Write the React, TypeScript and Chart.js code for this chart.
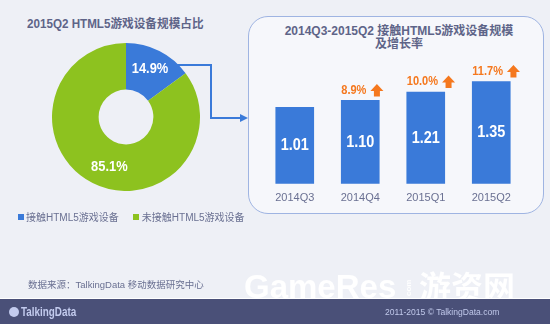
import React, { useEffect, useRef } from "react";
import { Chart, registerables } from "chart.js";

Chart.register(...registerables);

// ---- data ----
const shareLabels = ["接触HTML5游戏设备", "未接触HTML5游戏设备"];
const shareValues = [14.9, 85.1];
const quarters = ["2014Q3", "2014Q4", "2015Q1", "2015Q2"];
const scaleValues = [1.01, 1.1, 1.21, 1.35];
const growthRates: (number | null)[] = [null, 8.9, 10.0, 11.7];

const BLUE = "#3a7ad9";
const GREEN = "#8dc21f";
const ORANGE = "#f5781e";
const TEXT = "#5e6488";
const SANS = '"Liberation Sans", Arial, sans-serif';
const UI = '"Liberation Sans", "Noto Sans CJK SC", sans-serif';

function narrowText(ctx: any, text: string, x: number, y: number, sx: number, align: string) {
  ctx.save();
  ctx.translate(x, y);
  ctx.scale(sx, 1);
  ctx.textAlign = align;
  ctx.textBaseline = "middle";
  ctx.fillText(text, 0, 0);
  const w = ctx.measureText(text).width * sx;
  ctx.restore();
  return w;
}

const donutLabels = {
  id: "donutLabels",
  afterDatasetsDraw(chart: any) {
    const ctx = chart.ctx;
    const meta = chart.getDatasetMeta(0);
    ctx.save();
    ctx.font = "bold 14px " + SANS;
    ctx.fillStyle = "#ffffff";
    meta.data.forEach((arc: any, i: number) => {
      const p = arc.getProps(["x", "y", "startAngle", "endAngle", "outerRadius"], true);
      const mid = (p.startAngle + p.endAngle) / 2 - (i === 1 ? 0.15 : 0);
      const r = p.outerRadius * 0.72;
      narrowText(ctx, shareValues[i].toFixed(1) + "%", p.x + Math.cos(mid) * r, p.y + Math.sin(mid) * r, 0.92, "center");
    });
    ctx.restore();
  },
};

const barLabels = {
  id: "barLabels",
  afterDatasetsDraw(chart: any) {
    const ctx = chart.ctx;
    const meta = chart.getDatasetMeta(0);
    ctx.save();
    meta.data.forEach((bar: any, i: number) => {
      const p = bar.getProps(["x", "y", "base", "width"], true);
      ctx.font = "bold 17px " + SANS;
      ctx.fillStyle = "#ffffff";
      narrowText(ctx, scaleValues[i].toFixed(2), p.x, (p.y + p.base) / 2, 0.85, "center");
      const g = growthRates[i];
      if (g != null) {
        const text = g.toFixed(1) + "%";
        const left = p.x - p.width / 2;
        const ty = p.y - 10;
        ctx.font = "bold 12px " + SANS;
        ctx.fillStyle = ORANGE;
        const tw = narrowText(ctx, text, left, ty, 0.92, "left");
        const ax = left + tw + 4 + 6.5;
        ctx.beginPath();
        ctx.moveTo(ax, ty - 6.5);
        ctx.lineTo(ax + 6.5, ty + 0.5);
        ctx.lineTo(ax + 3, ty + 0.5);
        ctx.lineTo(ax + 3, ty + 6);
        ctx.lineTo(ax - 3, ty + 6);
        ctx.lineTo(ax - 3, ty + 0.5);
        ctx.lineTo(ax - 6.5, ty + 0.5);
        ctx.closePath();
        ctx.fill();
      }
    });
    ctx.restore();
  },
};

function Donut() {
  const ref = useRef<HTMLCanvasElement>(null);
  useEffect(() => {
    const chart = new Chart(ref.current!, {
      type: "doughnut",
      data: {
        labels: shareLabels,
        datasets: [{ data: shareValues, backgroundColor: [BLUE, GREEN], borderWidth: 0 }],
      },
      options: {
        animation: false,
        responsive: false,
        cutout: "37%",
        layout: { padding: 0 },
        plugins: { legend: { display: false }, tooltip: { enabled: false } },
      },
      plugins: [donutLabels],
    });
    return () => chart.destroy();
  }, []);
  return <canvas ref={ref} width={148} height={148} style={{ position: "absolute", left: 52, top: 43, width: 148, height: 148 }} />;
}

function Bars() {
  const ref = useRef<HTMLCanvasElement>(null);
  useEffect(() => {
    const chart = new Chart(ref.current!, {
      type: "bar",
      data: {
        labels: quarters,
        datasets: [{ data: scaleValues, backgroundColor: BLUE, barThickness: 38, borderWidth: 0 }],
      },
      options: {
        animation: false,
        responsive: false,
        layout: { padding: 0 },
        plugins: { legend: { display: false }, tooltip: { enabled: false } },
        scales: {
          y: { display: false, min: 0, max: 1.66 },
          x: {
            grid: { display: false, drawTicks: false },
            border: { display: false },
            ticks: { color: "#6a7092", font: { size: 11, family: UI }, padding: 8 },
          },
        },
      },
      plugins: [barLabels],
    });
    return () => chart.destroy();
  }, []);
  return <canvas ref={ref} width={262} height={155} style={{ position: "absolute", left: 262, top: 58, width: 262, height: 155 }} />;
}

export default function App() {
  const abs = (s: React.CSSProperties): React.CSSProperties => ({ position: "absolute", whiteSpace: "nowrap", ...s });
  return (
    <div style={{ position: "absolute", left: 0, top: 0, width: 550, height: 324, background: "#eef0f6", overflow: "hidden", fontFamily: UI }}>
      {/* left title */}
      <div style={abs({ left: 27, top: 14, fontSize: 12, fontWeight: "bold", color: TEXT, transform: "scaleX(0.97)", transformOrigin: "left top" })}>2015Q2 HTML5游戏设备规模占比</div>
      {/* right box */}
      <div style={abs({ left: 248, top: 16, width: 294, height: 196, border: "1.5px solid #9fb4e2", borderRadius: 20, background: "#f6f7fb" })} />
      <div style={abs({ left: 252, top: 25, width: 294, textAlign: "center", fontSize: 12, fontWeight: "bold", color: TEXT, lineHeight: "13px", whiteSpace: "normal" })}>
        2014Q3-2015Q2 接触HTML5游戏设备规模
        <br />
        及增长率
      </div>
      <Donut />
      <Bars />
      {/* connector arrow */}
      <svg width={550} height={324} style={{ position: "absolute", left: 0, top: 0, pointerEvents: "none" }}>
        <polyline points="176,65 211,65 211,118 241,118" fill="none" stroke={BLUE} strokeWidth={2} />
        <polygon points="240,114 248,118 240,122" fill={BLUE} />
      </svg>
      {/* legend */}
      <div style={abs({ left: 18, top: 209, fontSize: 10, color: "#6a7092", display: "flex", alignItems: "center" })}>
        <span style={{ display: "inline-block", width: 6, height: 6, background: BLUE, marginRight: 2 }} />
        <span>{shareLabels[0]}</span>
        <span style={{ display: "inline-block", width: 6, height: 6, background: GREEN, marginLeft: 14, marginRight: 3 }} />
        <span>{shareLabels[1]}</span>
      </div>
      {/* source */}
      <div style={abs({ left: 28, top: 277, fontSize: 9.5, color: "#6a7092" })}>数据来源：TalkingData 移动数据研究中心</div>
      {/* watermark */}
      <div style={abs({ left: 244, top: 270, fontSize: 33, fontWeight: "bold", color: "rgba(255,255,255,0.95)", fontFamily: SANS, lineHeight: "33px" })}>GameRes</div>
      <div style={abs({ left: 404, top: 296, fontSize: 8, fontWeight: "bold", color: "rgba(255,255,255,0.95)", fontFamily: SANS, transform: "rotate(-90deg)", transformOrigin: "left top", lineHeight: "9px" })}>com</div>
      <div style={abs({ left: 419, top: 268, fontSize: 32, fontWeight: "bold", color: "rgba(255,255,255,0.95)", fontFamily: '"Noto Sans CJK SC", sans-serif', lineHeight: "34px" })}>游资网</div>
      {/* footer */}
      <div style={abs({ left: 0, top: 298, width: 550, height: 1, background: "#ffffff" })} />
      <div style={abs({ left: 0, top: 299, width: 550, height: 25, background: "#4a5078" })} />
      <div style={abs({ left: 9, top: 307, width: 10, height: 10, borderRadius: 5, background: "#c3cbee" })} />
      <div style={abs({ left: 21, top: 304, fontSize: 13, fontWeight: "bold", color: "#c3cbee", fontFamily: SANS, lineHeight: "16px", transform: "scaleX(0.76)", transformOrigin: "left top" })}>TalkingData</div>
      <div style={abs({ left: 385, top: 306, fontSize: 9.5, color: "#c0c8ea", fontFamily: SANS, lineHeight: "12px", transform: "scaleX(0.9)", transformOrigin: "left top" })}>2011-2015 © TalkingData.com</div>
    </div>
  );
}
